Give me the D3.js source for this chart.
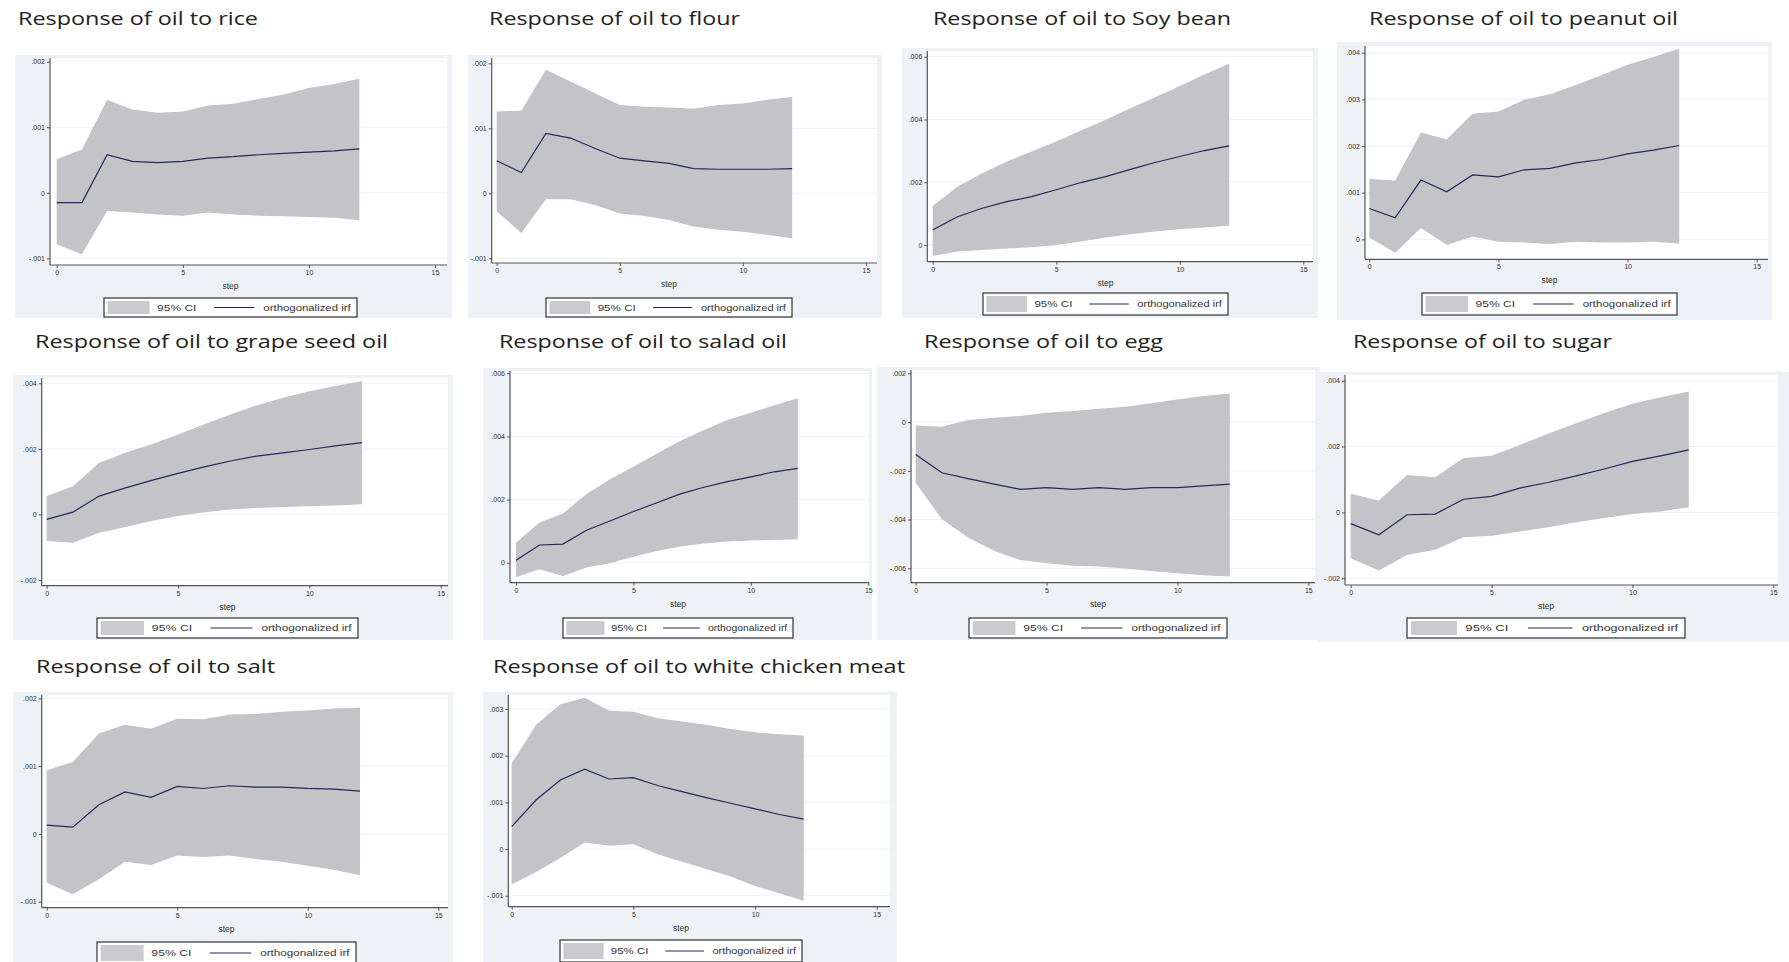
<!DOCTYPE html>
<html><head><meta charset="utf-8">
<script src="https://cdn.jsdelivr.net/npm/d3@7"></script>
<style>body{margin:0;background:#fff;} svg{display:block;}</style>
</head><body>
<svg id="c" width="1789" height="962"></svg>
<script>
// ---------- DATA ----------
const steps = [0,1,2,3,4,5,6,7,8,9,10,11,12];
const xTicks = [0,5,10,15];
const xLabel = "step";
const legendLabels = ["95% CI", "orthogonalized irf"];
const titles = [
  "Response of oil to rice",
  "Response of oil to flour",
  "Response of oil to Soy bean",
  "Response of oil to peanut oil",
  "Response of oil to grape seed oil",
  "Response of oil to salad oil",
  "Response of oil to egg",
  "Response of oil to sugar",
  "Response of oil to salt",
  "Response of oil to white chicken meat"
];

const riceIrf = [-0.00015,-0.00015,0.00058,0.00048,0.00046,0.00048,0.00053,0.00055,0.00058,0.00060,0.00062,0.00064,0.00067];
const riceHi  = [0.00051,0.00066,0.00142,0.00127,0.00122,0.00124,0.00133,0.00136,0.00143,0.00150,0.00160,0.00166,0.00174];
const riceLo  = [-0.00079,-0.00094,-0.00028,-0.00030,-0.00033,-0.00035,-0.00030,-0.00033,-0.00035,-0.00036,-0.00037,-0.00038,-0.00042];
const riceTicks = [-0.001,0,0.001,0.002];

const flourIrf = [0.00050,0.00032,0.00092,0.00085,0.00069,0.00054,0.00050,0.00046,0.00038,0.00037,0.00037,0.00037,0.00038];
const flourHi  = [0.00126,0.00127,0.00190,0.00172,0.00154,0.00136,0.00133,0.00132,0.00130,0.00136,0.00138,0.00144,0.00148];
const flourLo  = [-0.00028,-0.00061,-0.00009,-0.00009,-0.00018,-0.00031,-0.00035,-0.00041,-0.00051,-0.00056,-0.00059,-0.00064,-0.00069];
const flourTicks = [-0.001,0,0.001,0.002];

const soyIrf = [0.00048,0.00090,0.00117,0.00138,0.00154,0.00176,0.00199,0.00218,0.00241,0.00263,0.00282,0.00301,0.00316];
const soyHi  = [0.00124,0.00186,0.00229,0.00266,0.00298,0.00330,0.00365,0.00399,0.00436,0.00471,0.00507,0.00543,0.00578];
const soyLo  = [-0.00035,-0.00021,-0.00016,-0.00011,-0.00007,0.00000,0.00011,0.00024,0.00034,0.00043,0.00050,0.00056,0.00061];
const soyTicks = [0,0.002,0.004,0.006];

const peanutIrf = [0.00066,0.00046,0.00127,0.00102,0.00138,0.00134,0.00149,0.00152,0.00164,0.00171,0.00183,0.00191,0.00201];
const peanutHi  = [0.00129,0.00126,0.00229,0.00214,0.00269,0.00274,0.00299,0.00311,0.00331,0.00352,0.00374,0.00391,0.00409];
const peanutLo  = [0.00004,-0.00029,0.00024,-0.00012,0.00006,-0.00005,-0.00007,-0.00010,-0.00005,-0.00007,-0.00007,-0.00005,-0.00009];
const peanutTicks = [0,0.001,0.002,0.003,0.004];

const grapeIrf = [-0.00015,0.00007,0.00056,0.00081,0.00104,0.00125,0.00145,0.00163,0.00178,0.00188,0.00198,0.00209,0.00219];
const grapeHi  = [0.00056,0.00086,0.00158,0.00188,0.00214,0.00244,0.00275,0.00305,0.00333,0.00356,0.00376,0.00392,0.00407];
const grapeLo  = [-0.00081,-0.00086,-0.00056,-0.00038,-0.00020,-0.00005,0.00007,0.00015,0.00020,0.00023,0.00025,0.00027,0.00031];
const grapeTicks = [-0.002,0,0.002,0.004];

const saladIrf = [0.00008,0.00056,0.00059,0.00103,0.00132,0.00162,0.00190,0.00218,0.00239,0.00257,0.00272,0.00288,0.00299];
const saladHi  = [0.00063,0.00127,0.00156,0.00218,0.00264,0.00304,0.00346,0.00386,0.00420,0.00452,0.00475,0.00499,0.00521];
const saladLo  = [-0.00046,-0.00021,-0.00042,-0.00015,-0.00002,0.00019,0.00037,0.00051,0.00061,0.00067,0.00070,0.00072,0.00074];
const saladTicks = [0,0.002,0.004,0.006];

const eggIrf = [-0.00133,-0.00208,-0.00232,-0.00255,-0.00276,-0.00269,-0.00276,-0.00269,-0.00276,-0.00269,-0.00269,-0.00262,-0.00255];
const eggHi  = [-0.00014,-0.00019,0.00008,0.00018,0.00025,0.00038,0.00045,0.00055,0.00063,0.00077,0.00093,0.00107,0.00117];
const eggLo  = [-0.00249,-0.00399,-0.00474,-0.00529,-0.00566,-0.00579,-0.00590,-0.00593,-0.00601,-0.00611,-0.00620,-0.00628,-0.00634];
const eggTicks = [-0.006,-0.004,-0.002,0,0.002];

const sugarIrf = [-0.00034,-0.00068,-0.00007,-0.00005,0.00040,0.00049,0.00074,0.00091,0.00111,0.00132,0.00155,0.00172,0.00190];
const sugarHi  = [0.00057,0.00036,0.00114,0.00107,0.00165,0.00172,0.00205,0.00239,0.00271,0.00302,0.00330,0.00350,0.00367];
const sugarLo  = [-0.00139,-0.00176,-0.00129,-0.00113,-0.00075,-0.00071,-0.00058,-0.00045,-0.00030,-0.00017,-0.00005,0.00003,0.00016];
const sugarTicks = [-0.002,0,0.002,0.004];

const saltIrf = [0.00013,0.00010,0.00043,0.00062,0.00054,0.00070,0.00067,0.00071,0.00069,0.00069,0.00067,0.00066,0.00063];
const saltHi  = [0.00094,0.00106,0.00148,0.00161,0.00155,0.00170,0.00169,0.00176,0.00177,0.00180,0.00182,0.00185,0.00186];
const saltLo  = [-0.00072,-0.00089,-0.00067,-0.00041,-0.00046,-0.00032,-0.00034,-0.00032,-0.00037,-0.00041,-0.00047,-0.00053,-0.00061];
const saltTicks = [-0.001,0,0.001,0.002];

const chickenIrf = [0.00048,0.00105,0.00148,0.00171,0.00150,0.00153,0.00136,0.00123,0.00110,0.00098,0.00086,0.00074,0.00064];
const chickenHi  = [0.00184,0.00266,0.00310,0.00324,0.00296,0.00294,0.00280,0.00273,0.00266,0.00257,0.00250,0.00246,0.00243];
const chickenLo  = [-0.00076,-0.00049,-0.00019,0.00014,0.00007,0.00010,-0.00011,-0.00027,-0.00043,-0.00059,-0.00079,-0.00095,-0.00111];
const chickenTicks = [-0.001,0,0.001,0.002,0.003];

const series = [
  {irf: riceIrf, lo: riceLo, hi: riceHi, ticks: riceTicks},
  {irf: flourIrf, lo: flourLo, hi: flourHi, ticks: flourTicks},
  {irf: soyIrf, lo: soyLo, hi: soyHi, ticks: soyTicks},
  {irf: peanutIrf, lo: peanutLo, hi: peanutHi, ticks: peanutTicks},
  {irf: grapeIrf, lo: grapeLo, hi: grapeHi, ticks: grapeTicks},
  {irf: saladIrf, lo: saladLo, hi: saladHi, ticks: saladTicks},
  {irf: eggIrf, lo: eggLo, hi: eggHi, ticks: eggTicks},
  {irf: sugarIrf, lo: sugarLo, hi: sugarHi, ticks: sugarTicks},
  {irf: saltIrf, lo: saltLo, hi: saltHi, ticks: saltTicks},
  {irf: chickenIrf, lo: chickenLo, hi: chickenHi, ticks: chickenTicks}
];

// ---------- LAYOUT (pixel positions per panel) ----------
const layout = [
  {bg:[15,55,437,263],  ax:50,    ay:265,   top:58,  right:447,  xr:[56.7,435],     yr:[258.3,61.7],  title:[18,25,240],   leg:[104,298,253,19]},
  {bg:[468,55,414,263], ax:491.7, ay:263,   top:58,  right:877,  xr:[496.7,866],    yr:[258.3,63.3],  title:[489,25,251],  leg:[546,298,246,19]},
  {bg:[902,48,416,270], ax:927.3, ay:261.7, top:51,  right:1313, xr:[932.7,1303.3], yr:[245,56.7],    title:[933,25,298],  leg:[983,293,245,22]},
  {bg:[1337,42,435,278],ax:1365,  ay:259.3, top:46,  right:1768, xr:[1369.3,1756.7],yr:[239.3,52.7],  title:[1369,25,309], leg:[1422,293,255,22]},
  {bg:[13,375,440,265], ax:41.7,  ay:585.7, top:378, right:448,  xr:[46.7,440.7],   yr:[580,383.3],   title:[35,348,353],  leg:[97,618,261,20]},
  {bg:[483,368,389,272],ax:510,   ay:582.7, top:371, right:869,  xr:[516,868.3],    yr:[562.7,373.3], title:[499,348,288], leg:[563,618,230,20]},
  {bg:[877,367,443,273],ax:911,   ay:582.7, top:370, right:1315, xr:[915.7,1308.3], yr:[568.3,373.3], title:[924,348,239], leg:[969,618,258,20]},
  {bg:[1318,372,471,270],ax:1345, ay:585,   top:375, right:1778, xr:[1350.7,1773.3],yr:[578.3,380.7], title:[1353,348,259],leg:[1407,618,278,20]},
  {bg:[13,692,440,270], ax:41.7,  ay:907.7, top:695, right:448,  xr:[46.7,438.3],   yr:[901.7,698.3], title:[36,673,239],  leg:[97,942,259,22]},
  {bg:[483,692,414,270],ax:508.3, ay:906.7, top:695, right:890,  xr:[511.7,876.7],  yr:[895.7,709],   title:[493,673,412], leg:[560,940,242,22]}
];

// ---------- STYLE ----------
const C = {graphBg:"#eef1f6", plotBg:"#ffffff", grid:"#eef1f5", band:"#c4c3c8", line:"#1f2a5a", axis:"#555"};
const stataFmt = v => Math.abs(v) < 1e-12 ? "0" : (v < 0 ? "-" : "") + Math.abs(v).toFixed(3).replace(/^0/, "");

const svg = d3.select("#c");

series.forEach((s, i) => {
  const L = layout[i];
  const g = svg.append("g");
  g.append("rect").attr("x", L.bg[0]).attr("y", L.bg[1]).attr("width", L.bg[2]).attr("height", L.bg[3]).attr("fill", C.graphBg);
  g.append("rect").attr("x", L.ax).attr("y", L.top).attr("width", L.right - L.ax).attr("height", L.ay - L.top).attr("fill", C.plotBg);

  const x = d3.scaleLinear().domain([0, 15]).range(L.xr);
  const t = s.ticks;
  const y = d3.scaleLinear().domain([t[0], t[t.length - 1]]).range(L.yr);

  g.selectAll("line.grid").data(t).join("line").attr("class", "grid")
    .attr("x1", L.ax).attr("x2", L.right).attr("y1", d => y(d)).attr("y2", d => y(d))
    .attr("stroke", C.grid).attr("stroke-width", 1);

  const area = d3.area().x((d, j) => x(steps[j])).y0((d, j) => y(s.lo[j])).y1((d, j) => y(s.hi[j]));
  g.append("path").datum(s.irf).attr("d", area).attr("fill", C.band);
  const line = d3.line().x((d, j) => x(steps[j])).y(d => y(d));
  g.append("path").datum(s.irf).attr("d", line).attr("fill", "none").attr("stroke", C.line).attr("stroke-width", 1.2);

  const ya = g.append("g").attr("transform", `translate(${L.ax},0)`)
    .call(d3.axisLeft(y).tickValues(t).tickFormat(stataFmt).tickSize(3).tickPadding(2));
  ya.select(".domain").remove();
  ya.selectAll("text").attr("font-size", 7).attr("font-family", "Liberation Sans, Arial, sans-serif").attr("fill", "#333");
  ya.selectAll("line").attr("stroke", C.axis);

  const xa = g.append("g").attr("transform", `translate(0,${L.ay})`)
    .call(d3.axisBottom(x).tickValues(xTicks).tickSize(3).tickPadding(2));
  xa.select(".domain").remove();
  xa.selectAll("text").attr("font-size", 7).attr("font-family", "Liberation Sans, Arial, sans-serif").attr("fill", "#333");
  xa.selectAll("line").attr("stroke", C.axis);

  g.append("line").attr("x1", L.ax).attr("x2", L.ax).attr("y1", L.top).attr("y2", L.ay).attr("stroke", C.axis).attr("stroke-width", 1.2);
  g.append("line").attr("x1", L.ax).attr("x2", L.right).attr("y1", L.ay).attr("y2", L.ay).attr("stroke", C.axis).attr("stroke-width", 1.2);

  // title
  g.append("text").attr("x", L.title[0]).attr("y", L.title[1])
    .attr("textLength", L.title[2]).attr("lengthAdjust", "spacingAndGlyphs")
    .attr("font-family", "Open Sans, sans-serif").attr("font-size", 18).attr("fill", "#222")
    .text(titles[i]);

  // x title + legend
  const [lx, ly, lw, lh] = L.leg;
  const cx = lx + lw / 2;
  g.append("text").attr("x", cx).attr("y", L.ay + 24).attr("text-anchor", "middle")
    .attr("font-family", "Liberation Sans, Arial, sans-serif").attr("font-size", 8.5).attr("fill", "#333").text(xLabel);
  g.append("rect").attr("x", lx).attr("y", ly).attr("width", lw).attr("height", lh)
    .attr("fill", "#fff").attr("stroke", "#333").attr("stroke-width", 1.2);
  g.append("rect").attr("x", lx + 0.014 * lw).attr("y", ly + 3).attr("width", 0.166 * lw).attr("height", lh - 6).attr("fill", "#cbcacf");
  const my = ly + lh / 2;
  g.append("text").attr("x", lx + 0.21 * lw).attr("y", my + 3.2)
    .attr("textLength", 0.155 * lw).attr("lengthAdjust", "spacingAndGlyphs")
    .attr("font-family", "Liberation Sans, Arial, sans-serif").attr("font-size", 9).attr("fill", "#333").text(legendLabels[0]);
  g.append("line").attr("x1", lx + 0.435 * lw).attr("x2", lx + 0.595 * lw).attr("y1", my).attr("y2", my)
    .attr("stroke", C.line).attr("stroke-width", 1.1);
  g.append("text").attr("x", lx + 0.63 * lw).attr("y", my + 3.2)
    .attr("textLength", 0.345 * lw).attr("lengthAdjust", "spacingAndGlyphs")
    .attr("font-family", "Liberation Sans, Arial, sans-serif").attr("font-size", 9).attr("fill", "#333").text(legendLabels[1]);
});
</script>
</body></html>
